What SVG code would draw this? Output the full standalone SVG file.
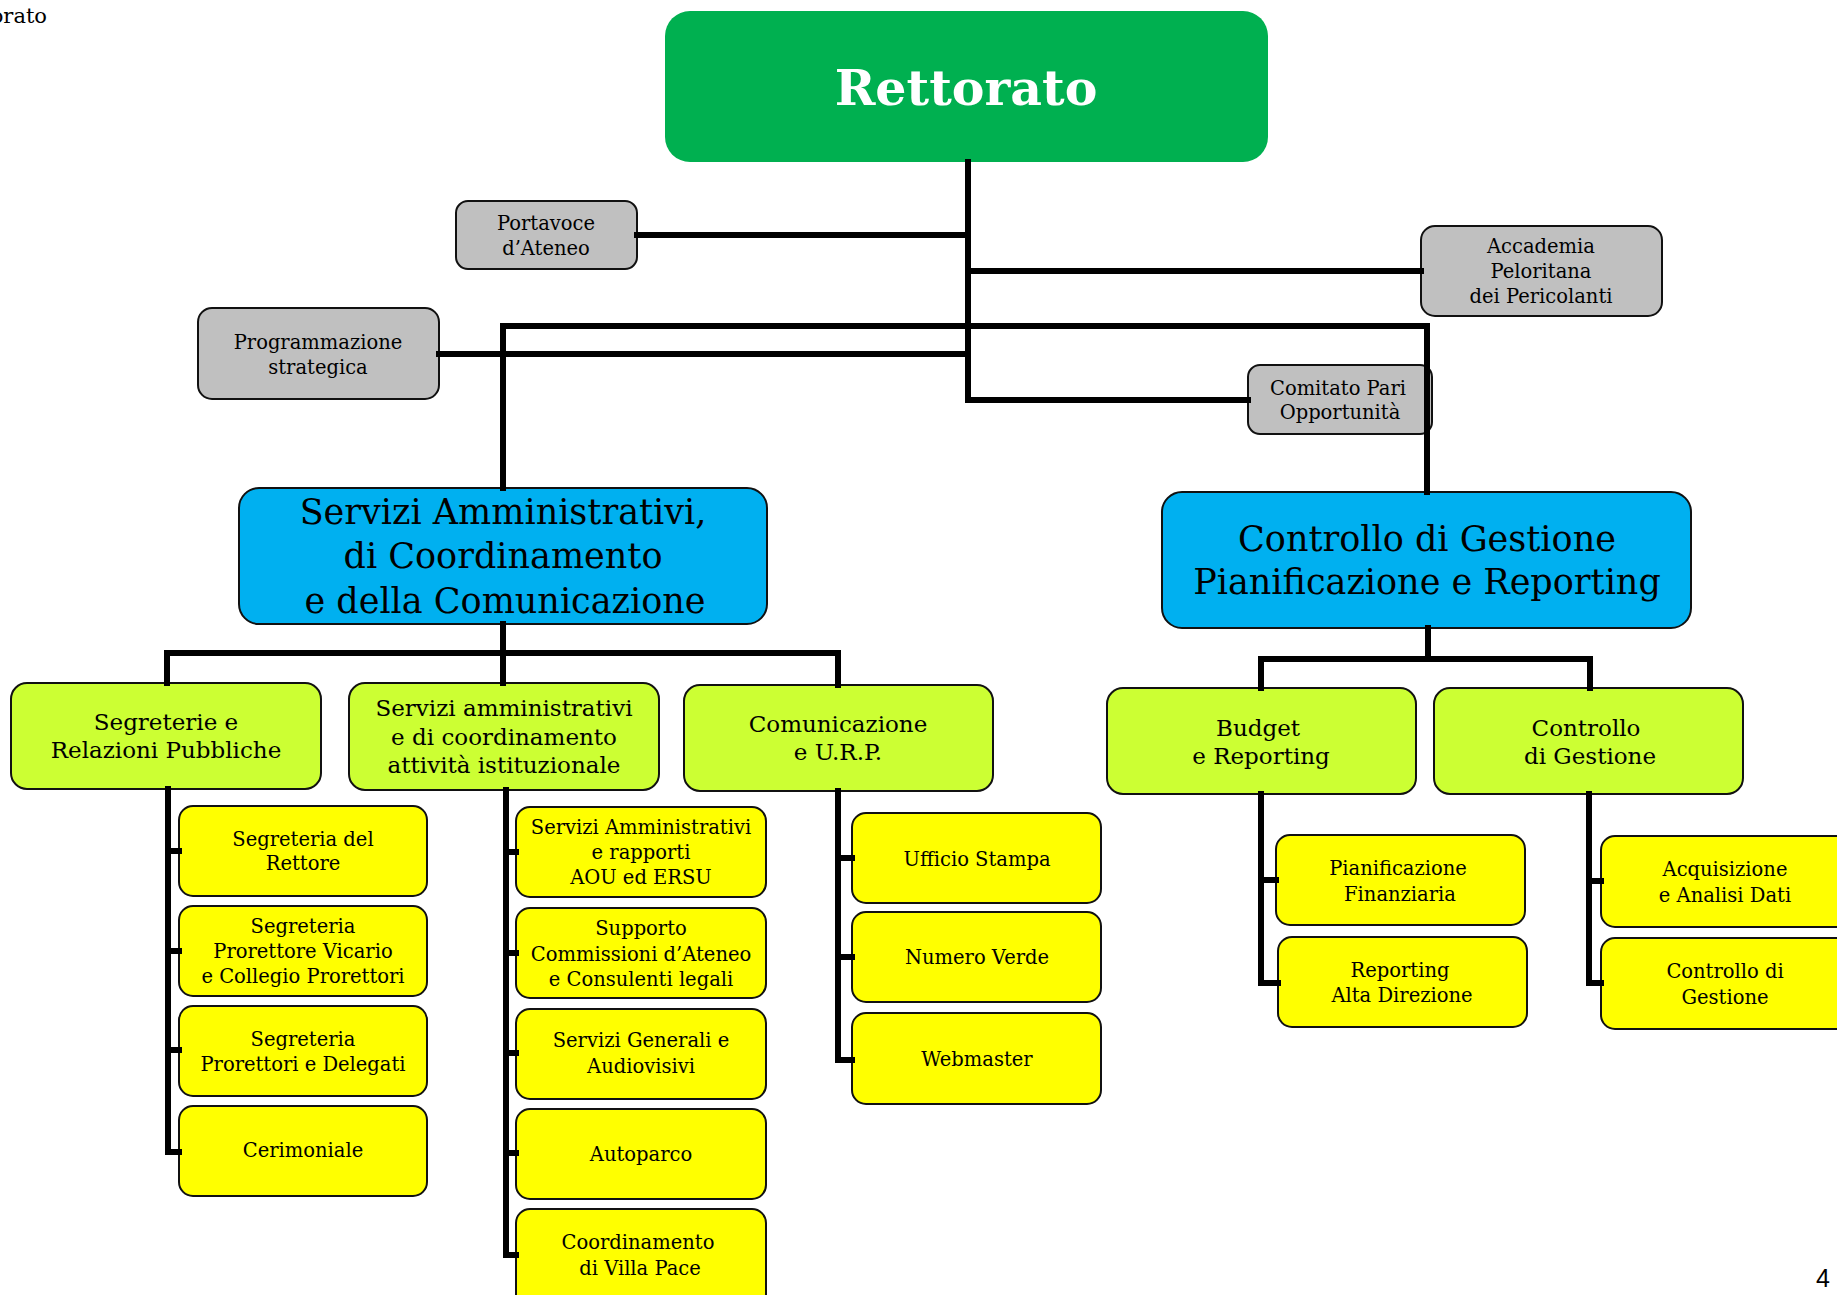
<svg xmlns="http://www.w3.org/2000/svg" width="1837" height="1295" viewBox="0 0 1837 1295">
<style>
text{font-family:"DejaVu Serif","Liberation Serif",serif;fill:#000;text-anchor:middle}
.box{stroke:#111;stroke-width:2}
.gray{fill:#C0C0C0}
.blue{fill:#00B0F0}
.lime{fill:#CCFF33}
.yel{fill:#FFFF00}
.t20{font-size:19.5px}
.t23{font-size:23px}
.t36{font-size:35px}
.conn{fill:none;stroke:#000;stroke-width:6;stroke-linejoin:miter;stroke-linecap:square}
</style>
<rect width="1837" height="1295" fill="#fff"/>
<text x="47" y="23" style="font-size:21px;text-anchor:end">orato</text>
<text x="1823" y="1287" style="font-family:'Liberation Sans','DejaVu Sans',sans-serif;font-size:25px;text-anchor:middle">4</text>

<g id="rettorato">
<rect x="665" y="11" width="603" height="151" rx="25" fill="#00B050"/>
<text x="966" y="105" style="font-size:49px;font-weight:bold;fill:#fff">Rettorato</text>
</g>
<g id="portavoce"><rect class="box gray" x="456" y="201" width="181" height="68" rx="12"/>
<text class="t20" x="546" y="230">Portavoce</text><text class="t20" x="546" y="255">d’Ateneo</text></g>
<g id="programmazione"><rect class="box gray" x="198" y="308" width="241" height="91" rx="14"/>
<text class="t20" x="318" y="349">Programmazione</text><text class="t20" x="318" y="374">strategica</text></g>
<g id="accademia"><rect class="box gray" x="1421" y="226" width="241" height="90" rx="14"/>
<text class="t20" x="1541" y="253">Accademia</text><text class="t20" x="1541" y="278">Peloritana</text><text class="t20" x="1541" y="303">dei Pericolanti</text></g>
<g id="comitato"><rect class="box gray" x="1248" y="365" width="184" height="69" rx="12"/>
<text class="t20" x="1338" y="395">Comitato Pari</text><text class="t20" x="1340" y="419">Opportunità</text></g>

<g id="servizi-blue"><rect class="box blue" x="239" y="488" width="528" height="136" rx="20"/>
<text class="t36" x="503" y="524">Servizi Amministrativi,</text><text class="t36" x="503" y="568">di Coordinamento</text><text class="t36" x="505" y="613">e della Comunicazione</text></g>
<g id="controllo-blue"><rect class="box blue" x="1162" y="492" width="529" height="136" rx="20"/>
<text class="t36" x="1427" y="551">Controllo di Gestione</text><text class="t36" x="1427" y="594">Pianificazione e Reporting</text></g>

<g id="segreterie"><rect class="box lime" x="11" y="683" width="310" height="106" rx="16"/>
<text class="t23" x="166" y="730">Segreterie e</text><text class="t23" x="166" y="758">Relazioni Pubbliche</text></g>
<g id="servizi-amm"><rect class="box lime" x="349" y="683" width="310" height="107" rx="16"/>
<text class="t23" x="504" y="716">Servizi amministrativi</text><text class="t23" x="504" y="745">e di coordinamento</text><text class="t23" x="504" y="773">attività istituzionale</text></g>
<g id="comunicazione"><rect class="box lime" x="684" y="685" width="309" height="106" rx="16"/>
<text class="t23" x="838" y="732">Comunicazione</text><text class="t23" x="838" y="760">e U.R.P.</text></g>
<g id="budget"><rect class="box lime" x="1107" y="688" width="309" height="106" rx="16"/>
<text class="t23" x="1258" y="736">Budget</text><text class="t23" x="1261" y="764">e Reporting</text></g>
<g id="controllo-green"><rect class="box lime" x="1434" y="688" width="309" height="106" rx="16"/>
<text class="t23" x="1586" y="736">Controllo</text><text class="t23" x="1590" y="764">di Gestione</text></g>

<g id="segr-rettore"><rect class="box yel" x="179" y="806" width="248" height="90" rx="14"/>
<text class="t20" x="303" y="846">Segreteria del</text><text class="t20" x="303" y="870">Rettore</text></g>
<g id="segr-vicario"><rect class="box yel" x="179" y="906" width="248" height="90" rx="14"/>
<text class="t20" x="303" y="933">Segreteria</text><text class="t20" x="303" y="958">Prorettore Vicario</text><text class="t20" x="303" y="983">e Collegio Prorettori</text></g>
<g id="segr-prorettori"><rect class="box yel" x="179" y="1006" width="248" height="90" rx="14"/>
<text class="t20" x="303" y="1046">Segreteria</text><text class="t20" x="303" y="1071">Prorettori e Delegati</text></g>
<g id="cerimoniale"><rect class="box yel" x="179" y="1106" width="248" height="90" rx="14"/>
<text class="t20" x="303" y="1157">Cerimoniale</text></g>

<g id="aou-ersu"><rect class="box yel" x="516" y="807" width="250" height="90" rx="14"/>
<text class="t20" x="641" y="834">Servizi Amministrativi</text><text class="t20" x="641" y="859">e rapporti</text><text class="t20" x="641" y="884">AOU ed ERSU</text></g>
<g id="supporto"><rect class="box yel" x="516" y="908" width="250" height="90" rx="14"/>
<text class="t20" x="641" y="935">Supporto</text><text class="t20" x="641" y="961">Commissioni d’Ateneo</text><text class="t20" x="641" y="986">e Consulenti legali</text></g>
<g id="servizi-generali"><rect class="box yel" x="516" y="1009" width="250" height="90" rx="14"/>
<text class="t20" x="641" y="1047">Servizi Generali e</text><text class="t20" x="641" y="1073">Audiovisivi</text></g>
<g id="autoparco"><rect class="box yel" x="516" y="1109" width="250" height="90" rx="14"/>
<text class="t20" x="641" y="1161">Autoparco</text></g>
<g id="villa-pace"><rect class="box yel" x="516" y="1209" width="250" height="100" rx="14"/>
<text class="t20" x="638" y="1249">Coordinamento</text><text class="t20" x="640" y="1275">di Villa Pace</text></g>

<g id="ufficio-stampa"><rect class="box yel" x="852" y="813" width="249" height="90" rx="14"/>
<text class="t20" x="977" y="866">Ufficio Stampa</text></g>
<g id="numero-verde"><rect class="box yel" x="852" y="912" width="249" height="90" rx="14"/>
<text class="t20" x="977" y="964">Numero Verde</text></g>
<g id="webmaster"><rect class="box yel" x="852" y="1013" width="249" height="91" rx="14"/>
<text class="t20" x="977" y="1066">Webmaster</text></g>

<g id="pianificazione"><rect class="box yel" x="1276" y="835" width="249" height="90" rx="14"/>
<text class="t20" x="1398" y="875">Pianificazione</text><text class="t20" x="1400" y="901">Finanziaria</text></g>
<g id="reporting"><rect class="box yel" x="1278" y="937" width="249" height="90" rx="14"/>
<text class="t20" x="1400" y="977">Reporting</text><text class="t20" x="1402" y="1002">Alta Direzione</text></g>
<g id="acquisizione"><rect class="box yel" x="1601" y="836" width="250" height="91" rx="14"/>
<text class="t20" x="1725" y="876">Acquisizione</text><text class="t20" x="1725" y="902">e Analisi Dati</text></g>
<g id="controllo-yellow"><rect class="box yel" x="1601" y="938" width="250" height="91" rx="14"/>
<text class="t20" x="1725" y="978">Controllo di</text><text class="t20" x="1725" y="1004">Gestione</text></g>

<g id="connectors" class="conn">
<path d="M968 162 V400 H1248"/>
<path d="M637 235 H968"/>
<path d="M968 271 H1421"/>
<path d="M439 354 H968"/>
<path d="M503 488 V326 H1427 V492"/>
<path d="M503 624 V683"/>
<path d="M167 683 V653 H838 V685"/>
<path d="M1428 628 V659"/>
<path d="M1261 688 V659 H1590 V688"/>
<path d="M168 789 V1152 H179 M168 851 H179 M168 951 H179 M168 1050 H179"/>
<path d="M506 790 V1255 H516 M506 852 H516 M506 953 H516 M506 1053 H516 M506 1153 H516"/>
<path d="M838 791 V1060 H852 M838 858 H852 M838 957 H852"/>
<path d="M1261 794 V983 H1278 M1261 880 H1276"/>
<path d="M1589 794 V983 H1601 M1589 881 H1601"/>
</g>
</svg>
